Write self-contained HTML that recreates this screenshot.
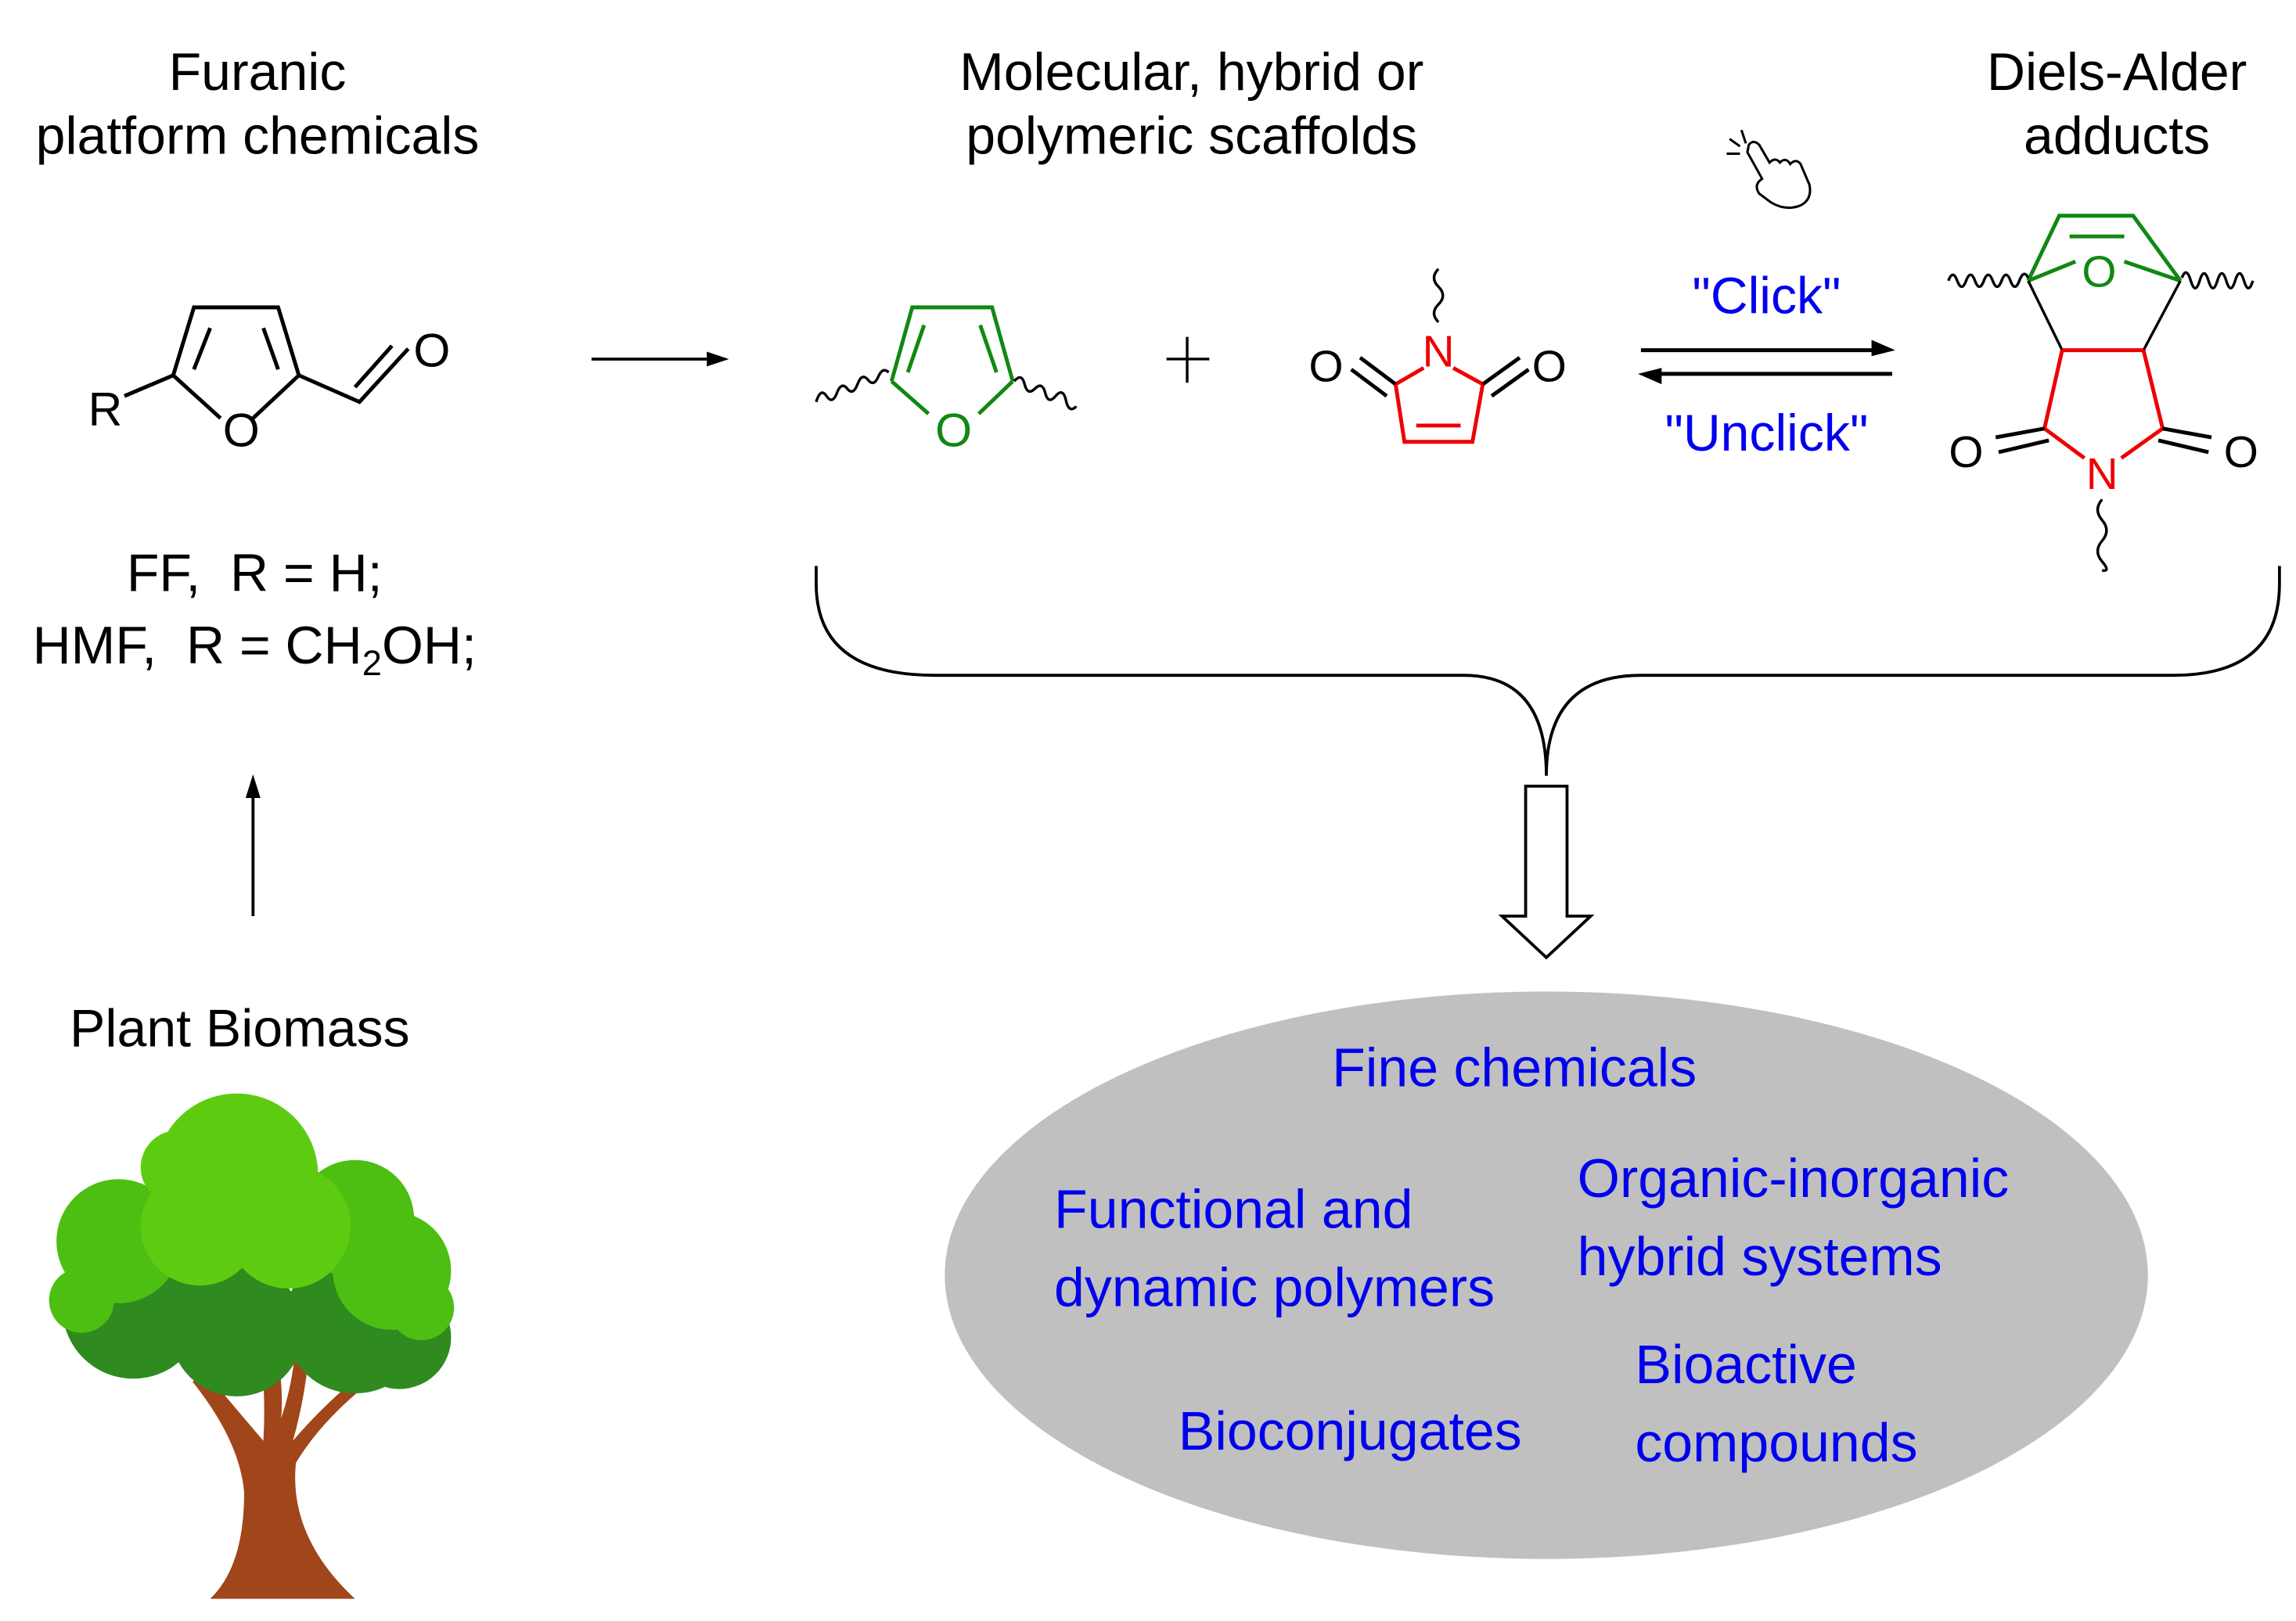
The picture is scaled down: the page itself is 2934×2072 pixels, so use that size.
<!DOCTYPE html>
<html><head><meta charset="utf-8"><style>
html,body{margin:0;padding:0;background:#fff;}
svg{display:block;}
text{font-family:"Liberation Sans",sans-serif;}
</style></head><body>
<svg width="2934" height="2072" viewBox="0 0 1553 1097" xmlns="http://www.w3.org/2000/svg">
<rect width="1553" height="1097" fill="#fff"/>
<!-- titles -->
<g font-size="36" fill="#000" text-anchor="middle">
<text x="174" y="61">Furanic</text>
<text x="174" y="104">platform chemicals</text>
<text x="806" y="61">Molecular, hybrid or</text>
<text x="806" y="104">polymeric scaffolds</text>
<text x="1432" y="61">Diels-Alder</text>
<text x="1432" y="104">adducts</text>
<text x="172" y="400">FF,&#160; R = H;</text>
<text x="172" y="449">HMF,&#160; R = CH<tspan font-size="24" dy="8">2</tspan><tspan dy="-8">OH;</tspan></text>
<text x="162" y="708">Plant Biomass</text>
</g>
<!-- left furan -->
<g stroke="#000" stroke-width="2.6" fill="none">
<polyline points="84,268 117,254 131,208 188,208 202,254"/>
<line x1="117" y1="254" x2="149" y2="283"/>
<line x1="202" y1="254" x2="171" y2="283"/>
<line x1="142" y1="222" x2="131" y2="250"/>
<line x1="178" y1="222" x2="188" y2="250"/>
<polyline points="202,254 243,272 276,236"/>
<line x1="240" y1="262" x2="265" y2="234"/>
</g>
<g font-size="32" fill="#000" text-anchor="middle">
<text x="71" y="288">R</text>
<text x="163" y="302">O</text>
<text x="292" y="248">O</text>
</g>
<!-- arrow -->
<line x1="400" y1="243" x2="482" y2="243" stroke="#000" stroke-width="2"/>
<polygon points="493,243 478,238 478,248" fill="#000"/>
<!-- middle furan -->
<g stroke="#118811" stroke-width="2.6" fill="none">
<polyline points="603,258 617,208 671,208 685,258"/>
<line x1="603" y1="258" x2="628" y2="280"/>
<line x1="685" y1="258" x2="662" y2="280"/>
<line x1="625" y1="220" x2="614" y2="252"/>
<line x1="663" y1="220" x2="674" y2="252"/>
</g>
<text x="645" y="302" font-size="32" fill="#118811" text-anchor="middle">O</text>
<g stroke="#000" stroke-width="1.8" fill="none">
<path d="M552,272 q3,-10 7,-4 t7,-2 t7,-3 t7,-3 t7,-3 t7,-2 t7,-3"/>
<path d="M686,258 q5,-6 7,2 t7,3 t7,3 t7,2 t7,3 t7,4"/>
</g>
<!-- plus -->
<g stroke="#000" stroke-width="1.8"><line x1="789" y1="243" x2="818" y2="243"/><line x1="803" y1="228" x2="803" y2="259"/></g>
<!-- maleimide -->
<g stroke="#e00" stroke-width="2.6" fill="none">
<line x1="963" y1="249" x2="944" y2="260"/>
<line x1="983" y1="249" x2="1003" y2="260"/>
<polyline points="944,260 950,299 996,299 1003,260"/>
<line x1="958" y1="288" x2="988" y2="288"/>
</g>
<g stroke="#000" stroke-width="2.6">
<line x1="944" y1="260" x2="920" y2="242"/><line x1="938" y1="268" x2="914" y2="250"/>
<line x1="1003" y1="260" x2="1028" y2="242"/><line x1="1009" y1="268" x2="1034" y2="250"/>
</g>
<path d="M973,182 q-6,6 0,12 t0,12 t0,12" stroke="#000" stroke-width="1.8" fill="none"/>
<text x="973" y="248" font-size="30" fill="#e00" text-anchor="middle">N</text>
<g font-size="30" fill="#000" text-anchor="middle"><text x="897" y="258">O</text><text x="1048" y="258">O</text></g>
<!-- equilibrium arrows -->
<g stroke="#000" stroke-width="2.6">
<line x1="1110" y1="237" x2="1270" y2="237"/>
<line x1="1120" y1="253" x2="1280" y2="253"/>
</g>
<polygon points="1282,237 1266,230 1266,241" fill="#000"/>
<polygon points="1108,253 1124,249 1124,260" fill="#000"/>
<g font-size="35" fill="#0000ee" text-anchor="middle"><text x="1195" y="212">"Click"</text><text x="1195" y="305">"Unclick"</text></g>
<!-- hand icon -->
<g stroke="#000" stroke-width="1.6" fill="none">
<path d="M1182,103 l10,18 q-6,4 -2,10 l8,6 q10,6 20,2 q8,-4 6,-14 l-6,-14 q-3,-4 -7,0 q-3,-5 -7,-1 q-3,-4 -7,0 l-7,-12 q-4,-4 -7,0z"/>
<line x1="1178" y1="88" x2="1181" y2="97"/><line x1="1168" y1="104" x2="1177" y2="104"/><line x1="1170" y1="94" x2="1177" y2="99"/>
</g>
<!-- adduct -->
<g stroke="#118811" stroke-width="2.6" fill="none">
<polyline points="1372,190 1393,146 1443,146 1475,190"/>
<line x1="1400" y1="160" x2="1437" y2="160"/>
<line x1="1372" y1="190" x2="1404" y2="177"/>
<line x1="1475" y1="190" x2="1437" y2="177"/>
</g>
<text x="1420" y="194" font-size="30" fill="#118811" text-anchor="middle">O</text>
<g stroke="#000" stroke-width="1.8" fill="none">
<line x1="1372" y1="190" x2="1395" y2="237"/><line x1="1475" y1="190" x2="1450" y2="237"/>
<path d="M1318,190 q3,-8 6,0 t6,0 t6,0 t6,0 t6,0 t6,0 t6,0 t6,0 t6,-2"/>
<path d="M1476,188 q3,-8 6,2 t6,0 t6,0 t6,0 t6,0 t6,0 t6,0 t6,0"/>
<path d="M1422,338 q-6,7 0,14 t0,14 t0,14 t0,6"/>
</g>
<g stroke="#e00" stroke-width="2.6" fill="none">
<line x1="1395" y1="237" x2="1450" y2="237"/>
<polyline points="1395,237 1383,290 1410,310"/>
<polyline points="1450,237 1463,290 1435,310"/>
</g>
<g stroke="#000" stroke-width="2.6">
<line x1="1383" y1="290" x2="1350" y2="296"/><line x1="1386" y1="298" x2="1352" y2="306"/>
<line x1="1463" y1="290" x2="1496" y2="296"/><line x1="1460" y1="298" x2="1494" y2="306"/>
</g>
<text x="1422" y="331" font-size="30" fill="#e00" text-anchor="middle">N</text>
<g font-size="30" fill="#000" text-anchor="middle"><text x="1330" y="316">O</text><text x="1516" y="316">O</text></g>
<!-- brace -->
<path d="M552,383 L552,395 Q552,457 632,457 L990,457 Q1046,457 1046,525 Q1046,457 1110,457 L1470,457 Q1542,457 1542,395 L1542,383" stroke="#000" stroke-width="2" fill="none"/>
<!-- hollow arrow -->
<path d="M1032,532 L1060,532 L1060,620 L1076,620 L1046,648 L1016,620 L1032,620 Z" stroke="#000" stroke-width="2" fill="#fff"/>
<!-- up arrow -->
<line x1="171" y1="620" x2="171" y2="538" stroke="#000" stroke-width="2"/>
<polygon points="171,524 166,540 176,540" fill="#000"/>
<!-- ellipse -->
<ellipse cx="1046" cy="863" rx="407" ry="192" fill="#c0c0c0"/>
<g font-size="37" fill="#0000ee">
<text x="901" y="735">Fine chemicals</text>
<text x="713" y="831">Functional and</text>
<text x="713" y="884">dynamic polymers</text>
<text x="1067" y="810">Organic-inorganic</text>
<text x="1067" y="863">hybrid systems</text>
<text x="1106" y="936">Bioactive</text>
<text x="1106" y="989">compounds</text>
<text x="797" y="981">Bioconjugates</text>
</g>
<!-- tree -->
<g>
<path d="M142,1082 Q165,1060 165,1010 Q162,975 130,935 L140,930 Q165,960 178,975 Q180,940 175,905 L186,903 Q192,940 190,960 Q200,930 200,900 L210,900 Q208,940 198,975 Q215,955 238,935 L242,942 Q215,965 200,990 Q195,1040 240,1082 Z" fill="#a0461a"/>
<g fill="#2f8a1f">
<circle cx="90" cy="885" r="48"/><circle cx="160" cy="900" r="45"/><circle cx="240" cy="895" r="48"/><circle cx="270" cy="905" r="35"/>
</g>
<g fill="#4cbf12">
<circle cx="80" cy="840" r="42"/><circle cx="55" cy="880" r="22"/><circle cx="265" cy="860" r="40"/><circle cx="240" cy="825" r="40"/><circle cx="285" cy="885" r="22"/>
</g>
<g fill="#5dcc10">
<circle cx="160" cy="795" r="55"/><circle cx="135" cy="830" r="40"/><circle cx="195" cy="830" r="42"/><circle cx="155" cy="770" r="22"/><circle cx="120" cy="790" r="25"/>
</g>
</g>
</svg>
</body></html>
